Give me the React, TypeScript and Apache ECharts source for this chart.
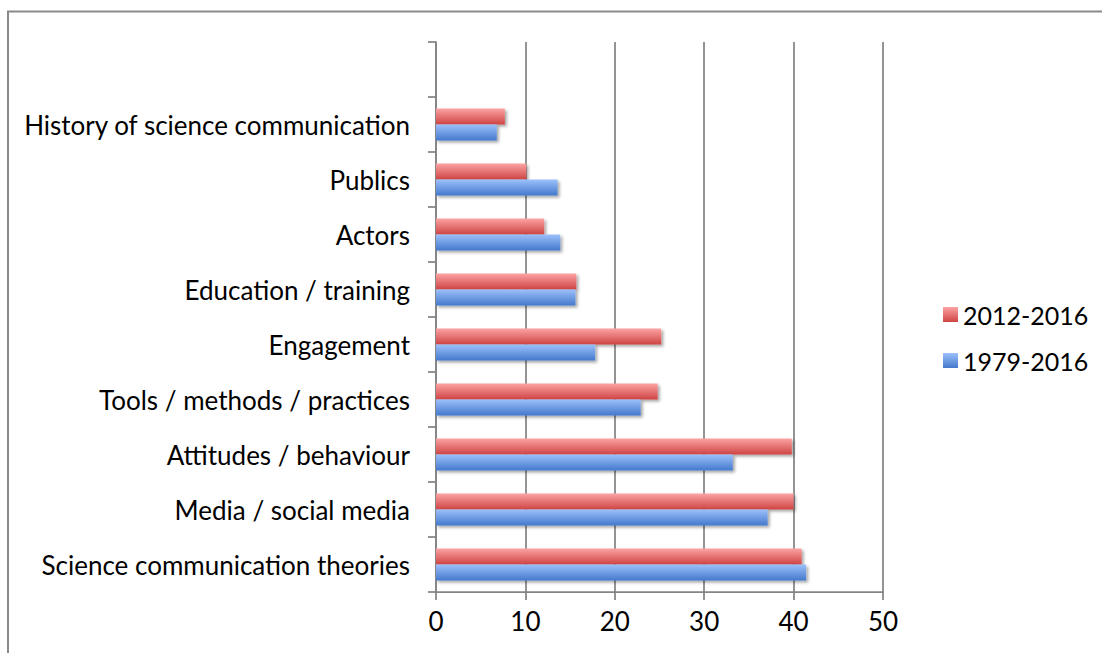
import React, { useEffect, useRef } from "react";
import * as echarts from "echarts";

const categories = [
  "Science communication theories",
  "Media / social media",
  "Attitudes / behaviour",
  "Tools / methods / practices",
  "Engagement",
  "Education / training",
  "Actors",
  "Publics",
  "History of science communication",
  "",
];
const seriesNames = ["2012-2016", "1979-2016"];
const values20122016 = [40.9, 40.0, 39.8, 24.8, 25.2, 15.7, 12.1, 10.1, 7.7, null];
const values19792016 = [41.4, 37.1, 33.2, 22.9, 17.8, 15.6, 13.9, 13.6, 6.8, null];
const xTicks = { min: 0, max: 50, interval: 10 };

const FONT = "Lato, 'Liberation Sans', sans-serif";
const GRAY = "#858585";

const grad = (top: string, bottom: string) =>
  new echarts.graphic.LinearGradient(0, 0, 0, 1, [
    { offset: 0, color: top },
    { offset: 1, color: bottom },
  ]);

export default function App() {
  const ref = useRef<HTMLDivElement>(null);
  useEffect(() => {
    if (!ref.current) return;
    const chart = echarts.init(ref.current, undefined, { renderer: "svg" });
    const shadow = {
      shadowBlur: 3,
      shadowOffsetX: 2,
      shadowOffsetY: 2,
      shadowColor: "rgba(0,0,0,0.35)",
    };
    chart.setOption({
      animation: false,
      backgroundColor: "#ffffff",
      graphic: [
        {
          type: "rect",
          shape: { x: 8, y: 11.5, width: 1200, height: 700 },
          style: { fill: "none", stroke: "#8a8a8a", lineWidth: 2 },
          silent: true,
        },
      ],
      grid: { left: 436, top: 42, width: 447, height: 550, containLabel: false },
      legend: {
        orient: "vertical",
        left: 938,
        top: 297,
        itemWidth: 15,
        itemHeight: 15,
        itemGap: 21,
        icon: "rect",
        data: [seriesNames[0], seriesNames[1]],
        textStyle: { fontFamily: FONT, fontSize: 25, color: "#000" },
      },
      xAxis: {
        type: "value",
        min: xTicks.min,
        max: xTicks.max,
        interval: xTicks.interval,
        axisLine: { show: true, lineStyle: { color: GRAY, width: 1.75 } },
        axisTick: { show: true, length: 8, lineStyle: { color: GRAY, width: 1.75 } },
        splitLine: { show: true, lineStyle: { color: GRAY, width: 1.75 } },
        axisLabel: { fontFamily: FONT, fontSize: 26, color: "#000", margin: 16 },
      },
      yAxis: {
        type: "category",
        data: categories,
        axisLine: { show: true, lineStyle: { color: GRAY, width: 1.75 } },
        axisTick: { show: true, length: 8, lineStyle: { color: GRAY, width: 1.75 } },
        axisLabel: {
          fontFamily: FONT,
          fontSize: 26,
          color: "#000",
          margin: 26,
          padding: [0, 0, 5, 0],
        },
        splitLine: { show: false },
      },
      series: [
        {
          name: seriesNames[0],
          type: "bar",
          data: values20122016,
          barWidth: 16,
          barGap: "0%",
          itemStyle: { color: grad("#fca3a3", "#cf4444"), ...shadow },
        },
        {
          name: seriesNames[1],
          type: "bar",
          data: values19792016,
          barWidth: 16,
          barGap: "0%",
          itemStyle: { color: grad("#9cc0fb", "#4479cc"), ...shadow },
        },
      ],
    });
    return () => chart.dispose();
  }, []);
  return (
    <div
      ref={ref}
      style={{ position: "fixed", left: 0, top: 0, width: 1102, height: 653 }}
    />
  );
}
